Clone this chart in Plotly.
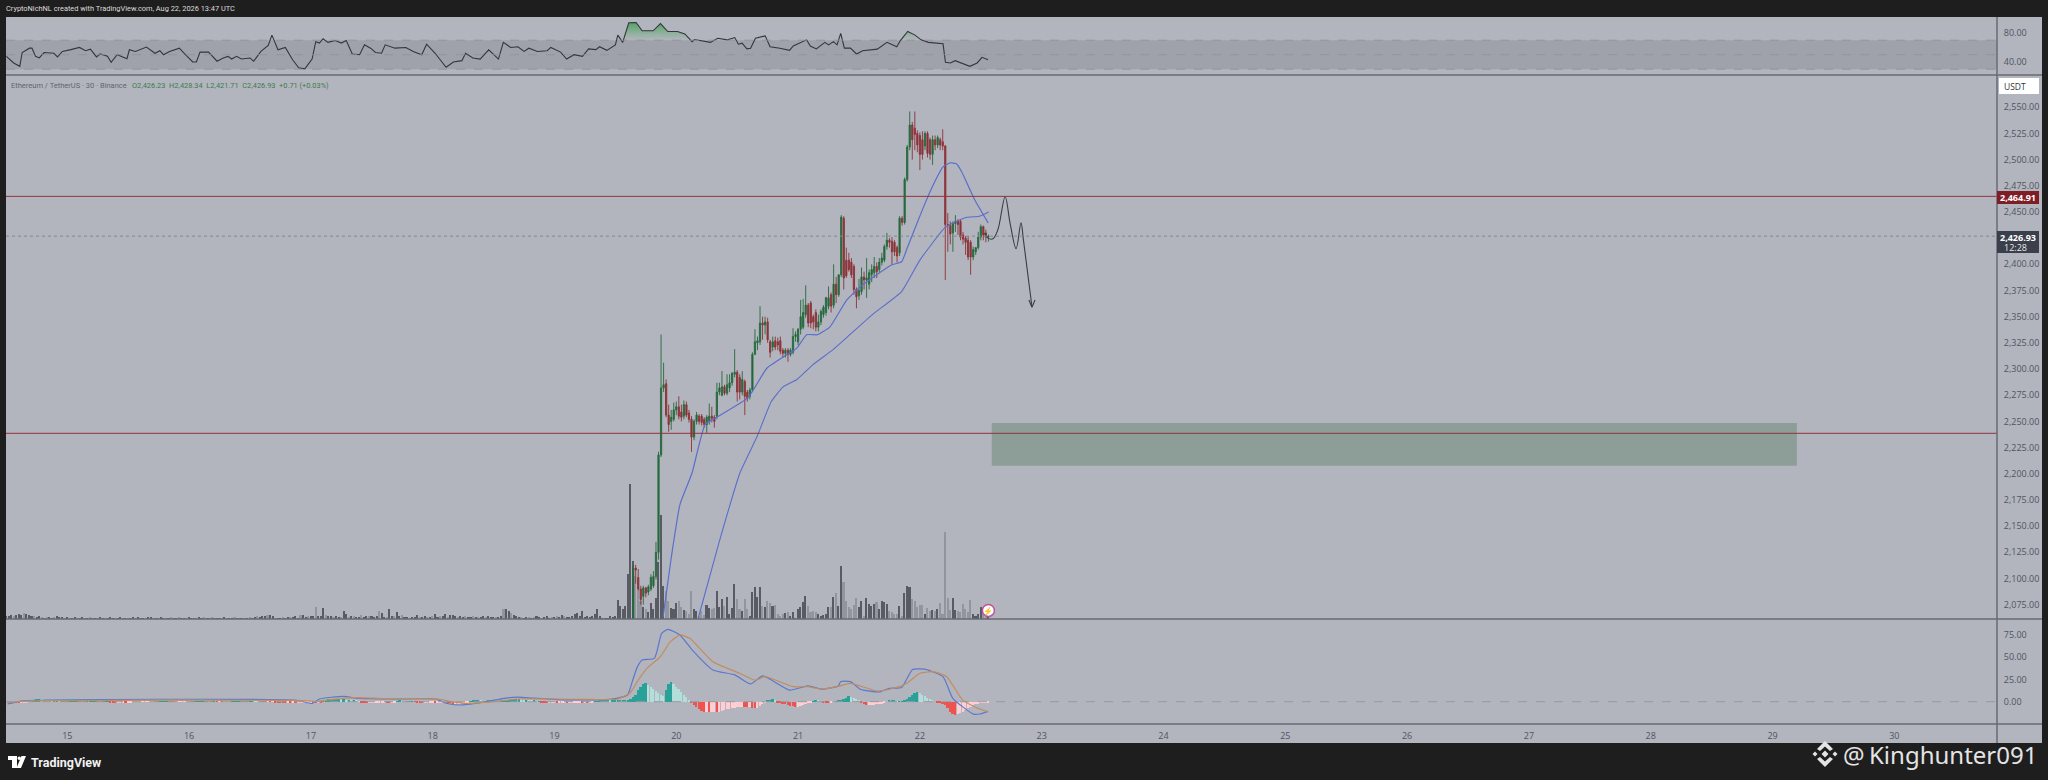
import plotly.graph_objects as go

# ---------- DATA ----------
candle_open = [2050,2110,2101,2090,2083,2091,2087,2090,2093,2102,2125,2218,2282,2286,2256,2250,2252,2261,2264,2259,2255,2266,2258,2252,2235,2250,2255,2255,2252,2247,2250,2255,2254,2255,2278,2275,2283,2277,2282,2287,2295,2297,2292,2278,2288,2278,2274,2280,2314,2325,2326,2344,
 2342,2345,2326,2321,2327,2326,2327,2318,2315,2318,2314,2316,2331,2326,2338,2340,2352,2361,2363,2350,2354,2340,2345,2352,2354,2360,2371,2361,2381,2371,2390,2444,2404,2404,2402,2398,2376,2370,2374,2388,2385,2381,2390,2392,2398,
 2395,2402,2404,2417,2423,2422,2421,2416,2411,2444,2440,2481,2512,2533,2530,2525,2523,2519,2513,2525,2519,2505,2519,2514,2519,2517,2513,2438,2437,2430,2439,2441,2441,2428,2425,2423,2421,2407,2412,2416,2426,2436,2430,2426.23]
candle_high = [2113,2113,2109,2093,2093,2092,2094,2104,2107,2135,2221,2333,2306,2290,2266,2261,2268,2269,2274,2266,2270,2269,2261,2255,2252,2259,2257,2257,2254,2256,2267,2264,2256,2287,2287,2298,2285,2295,2295,2297,2319,2299,2295,2298,2290,2280,2282,2316,2338,2331,2360,2350,
 2350,2349,2328,2331,2331,2330,2331,2320,2320,2320,2320,2339,2336,2339,2366,2367,2380,2363,2365,2352,2357,2352,2357,2361,2369,2379,2373,2400,2388,2390,2447,2446,2416,2411,2406,2400,2378,2386,2397,2393,2406,2395,2400,2407,2402,
 2406,2411,2419,2430,2425,2426,2423,2418,2446,2446,2483,2514,2546,2536,2546,2528,2526,2527,2527,2527,2521,2523,2523,2523,2521,2529,2514,2449,2441,2441,2447,2443,2443,2431,2427,2427,2423,2417,2416,2431,2438,2437,2433,2428.34]
candle_low = [2048,2095,2088,2075,2075,2082,2084,2088,2091,2099,2118,2216,2278,2254,2240,2242,2250,2256,2252,2250,2252,2254,2249,2221,2232,2247,2247,2246,2244,2239,2247,2249,2244,2252,2275,2274,2275,2275,2278,2284,2292,2269,2271,2275,2256,2269,2271,2278,2314,2318,2323,2328,
 2333,2325,2311,2317,2318,2318,2314,2311,2311,2307,2312,2314,2326,2323,2333,2338,2349,2340,2339,2338,2336,2336,2342,2349,2351,2357,2354,2358,2363,2369,2388,2376,2387,2393,2387,2371,2358,2366,2371,2376,2368,2376,2383,2387,2387,
 2392,2399,2402,2414,2416,2400,2408,2402,2408,2437,2438,2479,2509,2500,2509,2507,2490,2500,2509,2502,2500,2495,2509,2511,2509,2509,2385,2412,2419,2412,2431,2428,2423,2419,2409,2404,2390,2404,2409,2414,2423,2423,2421,2421.71]
candle_close = [2110,2108,2090,2080,2091,2086,2092,2101,2102,2125,2218,2282,2285,2256,2247,2254,2261,2264,2255,2254,2266,2256,2252,2235,2250,2256,2250,2249,2247,2254,2255,2253,2250,2278,2282,2283,2277,2285,2287,2296,2297,2278,2278,2290,2274,2272,2280,2314,2326,2327,2344,2342,
 2345,2328,2316,2326,2321,2323,2317,2315,2318,2314,2318,2331,2333,2338,2350,2354,2361,2344,2344,2345,2340,2345,2355,2359,2368,2368,2360,2381,2371,2390,2445,2387,2389,2395,2390,2376,2369,2375,2388,2385,2387,2392,2395,2398,2393,
 2402,2406,2417,2423,2421,2412,2412,2408,2444,2440,2481,2512,2533,2519,2524,2514,2505,2505,2525,2506,2505,2519,2514,2521,2514,2513,2438,2437,2429,2439,2441,2438,2426,2424,2421,2407,2407,2414,2416,2426,2436,2428,2426,2426.93]

volume = [3,3,4,3,4,5,4,6,5,4,3,3, 2,3,2,1,2,2,1,2,3,2,2,1, 2,1,1,2,1,1,2,1,1,2,1,1, 1,2,1,1,1,2,1,1,1,2,1,1,
 1,1,2,1,2,1,1,1,2,2,1,1, 1,2,1,1,1,2,1,1,2,1,1,1, 2,1,1,1,2,1,2,1,1,2,1,1, 1,1,2,1,1,1,2,1,1,1,1,1,
 2,1,2,3,2,3,3,4,4,3,1,1, 1,2,1,2,2,2,3,1,4,4,2,3, 3,3,12,3,3,11,4,3,3,2,3,2, 2,8,5,2,3,3,2,2,4,2,3,3,
 3,2,3,8,6,2,2,10,3,3,7,3, 4,2,2,1,2,2,4,2,2,3,2,2, 3,5,2,3,3,5,2,4,4,3,2,3, 2,3,2,2,3,2,2,2,3,2,3,2,
 2,2,2,3,10,10,8,6,4,3,2,2, 1,2,2,1,2,3,2,1,2,3,1,2, 2,3,2,4,3,2,2,3,5,6,3,8, 2,3,2,3,5,10,3,1,1,1,3,2,
 3,19,13,10,13,45,
 135,58,43,28,18,12,10,7,16,10,21,57,104,33,28,18,11,10,16,18,12,9,8,5,28,10,8,3,8,4,14,11,10,11,28,12,20,13,22,5,11,35,20,
 10,8,20,10,3,27,32,22,32,13,12,18,16,13,14,5,3,5,6,7,3,7,1,10,12,17,23,13,7,8,7,5,3,4,5,12,12,22,26,13,53,37,18,12,10,14,21,12,18,3,21,15,13,15,17,10,18,17,15,8,7,5,5,13,3,26,33,32,20,18,12,14,14,5,11,8,9,8,10,16,5,87,21,9,21,9,8,7,15,10,7,19,5,3,5,12,8,6,4]
volume_early_dark = "111011101110110101101110101101101011011011101101011011101101011010110110111011011011101011011101011011101101101101110110110111011011011010110110111011011011011011101101011011011101101101011011101101101110110101101110101101111111"

macd_hist = [-1,-1,-1,-.5,0,1,2,2.5,3,2.5,2,1.5, 1,.5,.5,.5,.3,.3,.3,.3,.3,.3,.3,.3, .3,.2,.2,.2,.2,.2,.2,.2,.1,.1,.1,.1,
 -.5,-1,-1.5,-1.5,-1,-1,-1.5,-1,-.5,-.3,-.3,-.2, -.2,-.2,-.2,-.2,-.1,-.1,.1,.1,.1,.2,.2,.2, -.2,-.3,-.3,-.2,-.2,-.1,-.1,-.1,.1,.1,.1,.1,
 .1,.2,.2,.1,.1,.1,-.1,-.1,-.2,-.2,-.1,-.1, .1,.1,.1,.2,.2,.3,.3,.4,.4,.3,.2,.1, -.1,-.2,-.2,-.3,-.3,-.4,-.5,-.6,-.8,-1,-1,-1.2,
 -1.2,-1.5,-1.5,-1.3,-1,-.8,-.5,-.5,-.8,-1,-1,-1.2, 1,2,2.5,3,3,3,3,2.5,2.5,2,2,1.5, 1.5,1,.5,-.5,-1,-1.5,-1.5,-1.5,-1,-1,-.5,-.5,
 -.5,-1,-1.5,-1,-.5,.5,1,.5,.3,.3,.3,.3, -.3,-.5,-.8,-1,-1,-1,-1,-1,-1.5,-1.5,-1,-1, -1,-1.5,-2,-2.5,-2.5,-2.5,-2.5,-2,-1.5,-1,.5,1,
 1,1.5,1,.5,.5,1,1,.5,.5,.5,1,1.5, 1.5,2,2,2.5,3,3,2.5,2,2,1.5,1,1, .5,.5,-.5,-1,-1.5,-1.5,-1,-1,-1.5,-1.5,-1,-1,
 -1.5,-1.5,-1,-1,-.5,-.5,-1,-1,-1.5,-1,-.5,.5, .5,1,1,1.5,1.5,
 1,1,1,1.5,1.5,2,2,2,3,5,8,13,17,20,21,19,16,14,12,10,8,6,13,20,22,20,17,14,11,8,5,2,-1,-4,-6,-8,-10,-11,-11,-12,-12,-11,-11.5,-11,-10,-9,-8.5,-8,-7.5,-7,-6.5,-6,-5.5,-6,-6.5,-6.5,-7,-7.5,-7,-5,-3,-1,1,2,2.5,1,-1,-2,-2.5,-3,-4,-4.5,-5,-5.5,-5.5,-5,-4,-3,-2,-1,.5,1.5,1,.5,-1,-1.5,-2,-1,0,.5,1.5,2,2.5,4,6,5,4,3,2,-1,-3,-4,-4,-3.5,-3.5,-3,-3,-2.5,-1.5,0,1,1.5,1.5,.5,.5,.5,1.5,3,5,8,10,11,9.5,8,6,4.5,3,1.5,0,-1,-1.5,-2.5,-3.5,-7,-11,-14,-15,-14,-13,-11,-9,-7,-5.5,-4,-3,-2.5,-2,-1.5,-1,-.5]

ma_fast_day = [19.891,19.96,20.03,20.13,20.236,20.342,20.589,20.745,20.934,20.99,21.07,21.16,21.26,21.40,21.53,21.67,21.77,21.85,21.90,22.02,22.11,22.19,22.25,22.30,22.345,22.45,22.56]
ma_fast = [2063,2121,2170.6,2201,2247,2254.6,2272.7,2301,2315.6,2320,2332.8,2332.8,2340,2366,2380.5,2392,2399.6,2402.4,2416.7,2452,2476,2493,2497,2496,2488,2461.6,2439.6]
ma_slow_day = [20.18,20.35,20.523,20.663,20.78,20.877,20.99,21.12,21.287,21.61,21.85,22.0,22.205,22.31,22.385,22.49,22.565]
ma_slow = [2062,2134,2201,2235.5,2269,2283,2290,2304,2318.5,2352,2374,2404,2435,2441.6,2445,2446,2450]

sketch_day = [22.53,22.56,22.60,22.64,22.70,22.74,22.79,22.83,22.85,22.92]
sketch_price = [2430,2425,2424.4,2433,2464.5,2439.6,2415,2439.6,2423.4,2359.5]
arrow_day = [22.895,22.92,22.945]
arrow_price = [2366,2359,2366]

rsi_day = [14.50,14.56,14.61,14.63,14.69,14.71,14.74,14.77,14.81,14.89,14.92,14.96,15.03,15.10,15.15,15.19,15.24,15.27,15.33,15.36,15.41,15.49,15.51,15.56,15.65,15.72,15.76,15.79,15.84,15.92,15.97,16.03,16.06,16.09,16.16,16.23,16.28,16.32,16.35,16.39,16.43,16.50,16.53,16.59,16.65,16.68,16.73,16.79,16.85,16.90,16.95,17.01,17.04,17.07,17.10,17.14,17.20,17.25,17.29,17.34,17.40,17.44,17.49,17.53,17.58,17.61,17.69,17.78,17.84,17.91,17.95,18.02,18.11,18.17,18.24,18.27,18.33,18.39,18.46,18.54,18.58,18.64,18.70,18.75,18.79,18.86,18.94,18.97,19.05,19.10,19.16,19.23,19.28,19.34,19.37,19.43,19.50,19.52,19.56,19.61,19.67,19.72,19.81,19.87,19.93,20.01,20.07,20.13,20.15,20.28,20.34,20.42,20.48,20.51,20.54,20.58,20.61,20.65,20.73,20.77,20.85,20.93,20.96,21.07,21.10,21.15,21.22,21.25,21.29,21.32,21.35,21.38,21.43,21.48,21.53,21.65,21.73,21.81,21.84,21.90,21.96,22.01,22.07,22.19,22.21,22.25,22.29,22.41,22.47,22.51,22.56]
rsi = [47.7,38.6,34,53,59,59,47.7,45.5,53,52,47,54.5,57,60,55.5,57.7,47,51,48,39.5,50,44.5,56.8,54.5,60.5,52,55.5,50,54.5,59,50,40,40,53.6,53.6,41,45.5,47.7,44,47.7,44,45.5,41,54.5,62.7,77,56.8,60,43,32,30.5,44,68,66,72,67,69.5,66,69.5,51,50,63.6,59,53,52,63.6,59,60,54.5,50,64.5,52,32.7,40,41.8,52,45.5,44,56.8,44,67,60,61,54.5,59,54.5,55.5,60,53.6,44,50,47.7,58,57,61,56,63.6,77,67,94,94.5,83,83,93,82,82,78.6,68,71,67,72.7,70.5,73.6,64.5,66,58,59,72.7,76,61,59,56,62,70.5,62,58,67,63.6,68,63.6,79.5,59,59,51,55.5,57.7,67,61,69.5,82,77,70.5,67,65,39.5,38.6,41.8,34,38.6,46.4,43]

macd_day = [14.51,14.64,16.88,17.01,17.07,17.27,17.37,17.69,18.02,18.12,18.24,18.44,18.60,18.70,18.83,19.12,19.32,19.37,19.51,19.60,19.64,19.68,19.72,19.82,19.88,19.93,20.03,20.13,20.30,20.48,20.61,20.71,20.93,21.08,21.20,21.33,21.35,21.43,21.51,21.67,21.75,21.85,21.94,22.04,22.19,22.27,22.44,22.49,22.56]
macd_line = [-2.6,1,1.5,-2,3,6,4,3,3,-2,-3.7,0,4,5,4,2,2,2,3.8,7.5,23,39,46.8,48.5,76.5,81,74.7,58,35.5,30,19.8,28.8,13,17.6,14,17.6,22.5,22.5,14,11,15,16,36,36.4,28,3.8,-14,-13.8,-10.8]
signal_day = [14.51,14.7,16.9,17.05,17.15,17.35,17.6,18.05,18.15,18.3,18.5,18.7,18.95,19.3,19.51,19.62,19.68,19.76,19.87,19.95,20.03,20.11,20.30,20.52,20.65,20.73,20.96,21.08,21.20,21.32,21.43,21.65,21.78,21.89,22.0,22.11,22.22,22.35,22.47,22.56]
signal_line = [-1,1,1.5,.5,2,4.5,3.5,3,0,-2,0,3,3,2.5,2.7,9.7,22.6,37.5,50.5,67,74.7,71,44.8,31.8,24,28,16.8,16.8,14,16.8,20.4,12,15,20.4,31.8,33.6,28,2,-7,-11.2]

price_ticks = [2550,2525,2500,2475,2450,2400,2375,2350,2325,2300,2275,2250,2225,2200,2175,2150,2125,2100,2075]
rsi_ticks = [40,80]
macd_ticks = [0,25,50,75]
day_ticks = [15,16,17,18,19,20,21,22,23,24,25,26,27,28,29,30]

level_high = 2464.91
level_low = 2238.64
last_price = 2426.93
zone_day = [22.59,29.2]
zone_price = [2207.7,2248.5]
last_bar_day = 22.5625
icon_price = 2069.5

# ---------- STYLE ----------
W, H = 2048, 780
BG = "#1e1e1e"; PANE = "#b2b5be"; EDGE = "#686b73"; TXT = "#50545f"
UP = "#26693d"; DOWN = "#8c3238"; BLUE = "#5a6ecb"; ORANGE = "#c28c60"
FONT = "Open Sans"

def fx(p): return p / W
def fy(p): return 1 - p / H
def path(points):
    return "M" + " L".join(f"{fx(a):.5f},{fy(b):.5f}" for a, b in points) + " Z"

n_c = len(candle_close)
candle_x = [last_bar_day - (n_c - 1 - i) / 48 for i in range(n_c)]
n_v = len(volume)
vol_x = [last_bar_day - (n_v - 1 - i) / 48 for i in range(n_v)]
candle_dark = [c >= o for o, c in zip(candle_open, candle_close)]
early = n_v - n_c
vol_dark = [(volume_early_dark[i] == "1") if i < len(volume_early_dark) else True for i in range(early)] + candle_dark
n_h = len(macd_hist)
hist_x = [last_bar_day - (n_h - 1 - i) / 48 for i in range(n_h)]
hist_col = []
for i, v in enumerate(macd_hist):
    prev = macd_hist[i - 1] if i else 0
    if v >= 0:
        hist_col.append("#2aa198" if v >= prev else "#b2dfdb")
    else:
        hist_col.append("#ef5350" if v < prev else "#ffcdd2")

fig = go.Figure()
# volume (base of the main pane)
fig.add_trace(go.Bar(x=vol_x, y=volume, yaxis="y4", width=1 / 48 * 0.62,
                     marker=dict(color=["#585b62" if d else "#92959d" for d in vol_dark], line_width=0)))
# RSI
fig.add_trace(go.Scatter(x=rsi_day, y=[70] * len(rsi), yaxis="y2", mode="lines", line=dict(width=0, color="rgba(0,0,0,0)")))
fig.add_trace(go.Scatter(x=rsi_day, y=[max(v, 70) for v in rsi], yaxis="y2", mode="lines", line=dict(width=0, color="rgba(0,0,0,0)"),
                         fill="tonexty",
                         fillgradient=dict(type="vertical", colorscale=[[0, "rgba(90,170,100,0.0)"], [1, "rgba(60,160,80,0.85)"]])))
fig.add_trace(go.Scatter(x=rsi_day, y=rsi, yaxis="y2", mode="lines", line=dict(color="#33363d", width=1.1)))
# MACD
fig.add_trace(go.Bar(x=hist_x, y=macd_hist, yaxis="y3", width=1 / 48 * 0.7, marker=dict(color=hist_col, line_width=0)))
fig.add_trace(go.Scatter(x=macd_day, y=macd_line, yaxis="y3", mode="lines", line=dict(color="#5b78cc", width=1.2, shape="spline", smoothing=0.5)))
fig.add_trace(go.Scatter(x=signal_day, y=signal_line, yaxis="y3", mode="lines", line=dict(color=ORANGE, width=1.2, shape="spline", smoothing=0.5)))
# price
fig.add_trace(go.Candlestick(x=candle_x, open=candle_open, high=candle_high, low=candle_low, close=candle_close, yaxis="y",
                             whiskerwidth=0,
                             increasing=dict(line=dict(color=UP, width=0.9), fillcolor=UP),
                             decreasing=dict(line=dict(color=DOWN, width=0.9), fillcolor=DOWN)))
fig.add_trace(go.Scatter(x=ma_fast_day, y=ma_fast, yaxis="y", mode="lines", line=dict(color=BLUE, width=1.2, shape="spline", smoothing=0.4)))
fig.add_trace(go.Scatter(x=ma_slow_day, y=ma_slow, yaxis="y", mode="lines", line=dict(color=BLUE, width=1.1, shape="spline", smoothing=0.4)))
fig.add_trace(go.Scatter(x=sketch_day, y=sketch_price, yaxis="y", mode="lines", line=dict(color="#3a3d44", width=1.1, shape="spline", smoothing=1)))
fig.add_trace(go.Scatter(x=arrow_day, y=arrow_price, yaxis="y", mode="lines", line=dict(color="#3a3d44", width=1.1)))
fig.add_trace(go.Scatter(x=[last_bar_day], y=[icon_price], yaxis="y", mode="markers",
                         marker=dict(size=12, color="#ffffff", line=dict(color="#c04f9e", width=1.5))))

shapes = [
    dict(type="rect", xref="paper", yref="paper", x0=fx(6), x1=fx(2042), y0=fy(743), y1=fy(17), fillcolor=PANE, line_width=0, layer="below"),
    # RSI band
    dict(type="rect", xref="x domain", yref="y2", x0=0, x1=1, y0=30, y1=70, fillcolor="rgba(115,118,130,0.3)", line_width=0, layer="below"),
    # zone
    dict(type="rect", xref="x", yref="y", x0=zone_day[0], x1=zone_day[1], y0=zone_price[0], y1=zone_price[1],
         fillcolor="rgba(72,118,84,0.36)", line_width=0, layer="below"),
    dict(type="line", xref="x domain", yref="y", x0=0, x1=1, y0=level_high, y1=level_high, line=dict(color="#90333d", width=1)),
    dict(type="line", xref="x domain", yref="y", x0=0, x1=1, y0=level_low, y1=level_low, line=dict(color="#90333d", width=1)),
    dict(type="line", xref="x domain", yref="y", x0=0, x1=1, y0=last_price, y1=last_price, line=dict(color="#85888f", width=1, dash="dot")),
    dict(type="line", xref="x domain", yref="y3", x0=0, x1=1, y0=0, y1=0, line=dict(color="#979aa1", width=1, dash="dash")),
]
for lv in (30, 50, 70):
    shapes.append(dict(type="line", xref="x domain", yref="y2", x0=0, x1=1, y0=lv, y1=lv, line=dict(color="#8d9097", width=0.8, dash="dash")))
for py in (75, 619, 724):
    shapes.append(dict(type="line", xref="paper", yref="paper", x0=fx(6), x1=fx(2042), y0=fy(py), y1=fy(py), line=dict(color=EDGE, width=1.5)))
shapes += [
    dict(type="line", xref="paper", yref="paper", x0=fx(1997), x1=fx(1997), y0=fy(743), y1=fy(17), line=dict(color=EDGE, width=1.5)),
    dict(type="rect", xref="paper", yref="paper", x0=fx(1999), x1=fx(2039), y0=fy(94), y1=fy(78), fillcolor="#ffffff", line_width=0),
    dict(type="rect", xref="paper", yref="paper", x0=fx(1997), x1=fx(2039), y0=fy(204), y1=fy(191), fillcolor="#7f1d26", line_width=0),
    dict(type="rect", xref="paper", yref="paper", x0=fx(1997), x1=fx(2039), y0=fy(253), y1=fy(231), fillcolor="#3b3f4b", line_width=0),
    # TradingView logo
    dict(type="path", xref="paper", yref="paper", path=path([(8, 756), (17, 756), (17, 768), (12, 768), (12, 760), (8, 760)]), fillcolor="#ffffff", line_width=0),
    dict(type="circle", xref="paper", yref="paper", x0=fx(17.5), x1=fx(21), y0=fy(760), y1=fy(756.5), fillcolor="#ffffff", line_width=0),
    dict(type="path", xref="paper", yref="paper", path=path([(21.5, 756), (26, 756), (21, 768), (16.5, 768)]), fillcolor="#ffffff", line_width=0),
]
# Binance mark beside the watermark
def diamond(cx, cy, r):
    return dict(type="path", xref="paper", yref="paper", path=path([(cx, cy - r), (cx + r, cy), (cx, cy + r), (cx - r, cy)]), fillcolor="#e4e4e4", line_width=0)
shapes += [diamond(1825, 754, 3.5), diamond(1815, 754, 2.5), diamond(1835, 754, 2.5)]
for pts in ([(1825, 741), (1833, 749), (1830, 751), (1825, 746.5), (1820, 751), (1817, 749)],
            [(1825, 767), (1833, 759), (1830, 757), (1825, 761.5), (1820, 757), (1817, 759)]):
    shapes.append(dict(type="path", xref="paper", yref="paper", path=path(pts), fillcolor="#e4e4e4", line_width=0))

def note(px, py, text, size=8, color=TXT, anchor="left", family=FONT):
    return dict(xref="paper", yref="paper", x=fx(px), y=fy(py), text=text, showarrow=False, xanchor=anchor, yanchor="middle",
                font=dict(size=size, color=color, family=family), borderpad=0, borderwidth=0)

G = "#3f7a4d"
annotations = [
    note(6, 9, "CryptoNichNL created with TradingView.com, Aug 22, 2026 13:47 UTC", 7.4, "#dcdcdc", family="Roboto"),
    note(11, 85, "Ethereum / TetherUS · 30 · Binance", 7.5, "#5f6570", family="Roboto"),
    note(132, 85, "O2,426.23  H2,428.34  L2,421.71  C2,426.93  +0.71 (+0.03%)", 7.4, G, family="Roboto"),
    note(2004, 86, "USDT", 8.5, "#30333b"),
    note(2018, 197.5, "<b>2,464.91</b>", 9, "#ffffff", "center"),
    note(2018, 237, "<b>2,426.93</b>", 9, "#ffffff", "center"),
    note(2004, 247, "12:28", 9, "#e8e8e8"),
    note(31, 762, "<b>TradingView</b>", 12.5, "#f2f2f2", family="Roboto"),
    note(1843, 754, "@", 24, "#e4e4e4", family="Noto Sans"),
    note(1869, 754, "Kinghunter091", 24, "#e4e4e4", family="Noto Sans"),
    dict(x=last_bar_day, y=icon_price, xref="x", yref="y", text="⚡", showarrow=False, font=dict(size=8, color="#c04f9e")),
]

def y_axis(domain, rng, ticks, fmt=",.2f", **extra):
    ax = dict(domain=domain, range=rng, side="right", anchor="x", tickmode="array", tickvals=ticks, tickformat=fmt,
              tickfont=dict(size=9, color=TXT, family=FONT), showgrid=False, zeroline=False, showline=False,
              ticks="outside", ticklen=4, tickcolor="rgba(0,0,0,0)")
    ax.update(extra)
    return ax

fig.update_layout(
    width=W, height=H, margin=dict(l=0, r=0, t=0, b=0), autosize=False,
    paper_bgcolor=BG, plot_bgcolor="rgba(0,0,0,0)", showlegend=False, barmode="overlay", bargap=0,
    xaxis=dict(domain=[fx(6), fx(1997)], range=[14.497, 30.843], anchor="y3", tickmode="array", tickvals=day_ticks,
               ticktext=[str(d) for d in day_ticks], tickfont=dict(size=9, color=TXT, family=FONT), showgrid=False, zeroline=False,
               showline=False, ticks="outside", ticklen=3, tickcolor="rgba(0,0,0,0)", rangeslider=dict(visible=False)),
    yaxis=y_axis([fy(619), fy(75)], [2061.3, 2580.8], price_ticks, overlaying="y4"),
    yaxis2=y_axis([fy(75), fy(17)], [22, 102], rsi_ticks),
    yaxis3=y_axis([fy(724), fy(619)], [-25, 92.6], macd_ticks),
    yaxis4=dict(domain=[fy(619), fy(75)], range=[0, 544], visible=False, anchor="x", side="left"),
    shapes=shapes, annotations=annotations,
)
fig.write_html("out.html", config={"displayModeBar": False},
               post_script="document.body.style.margin='0';document.documentElement.style.background='#1e1e1e';")
